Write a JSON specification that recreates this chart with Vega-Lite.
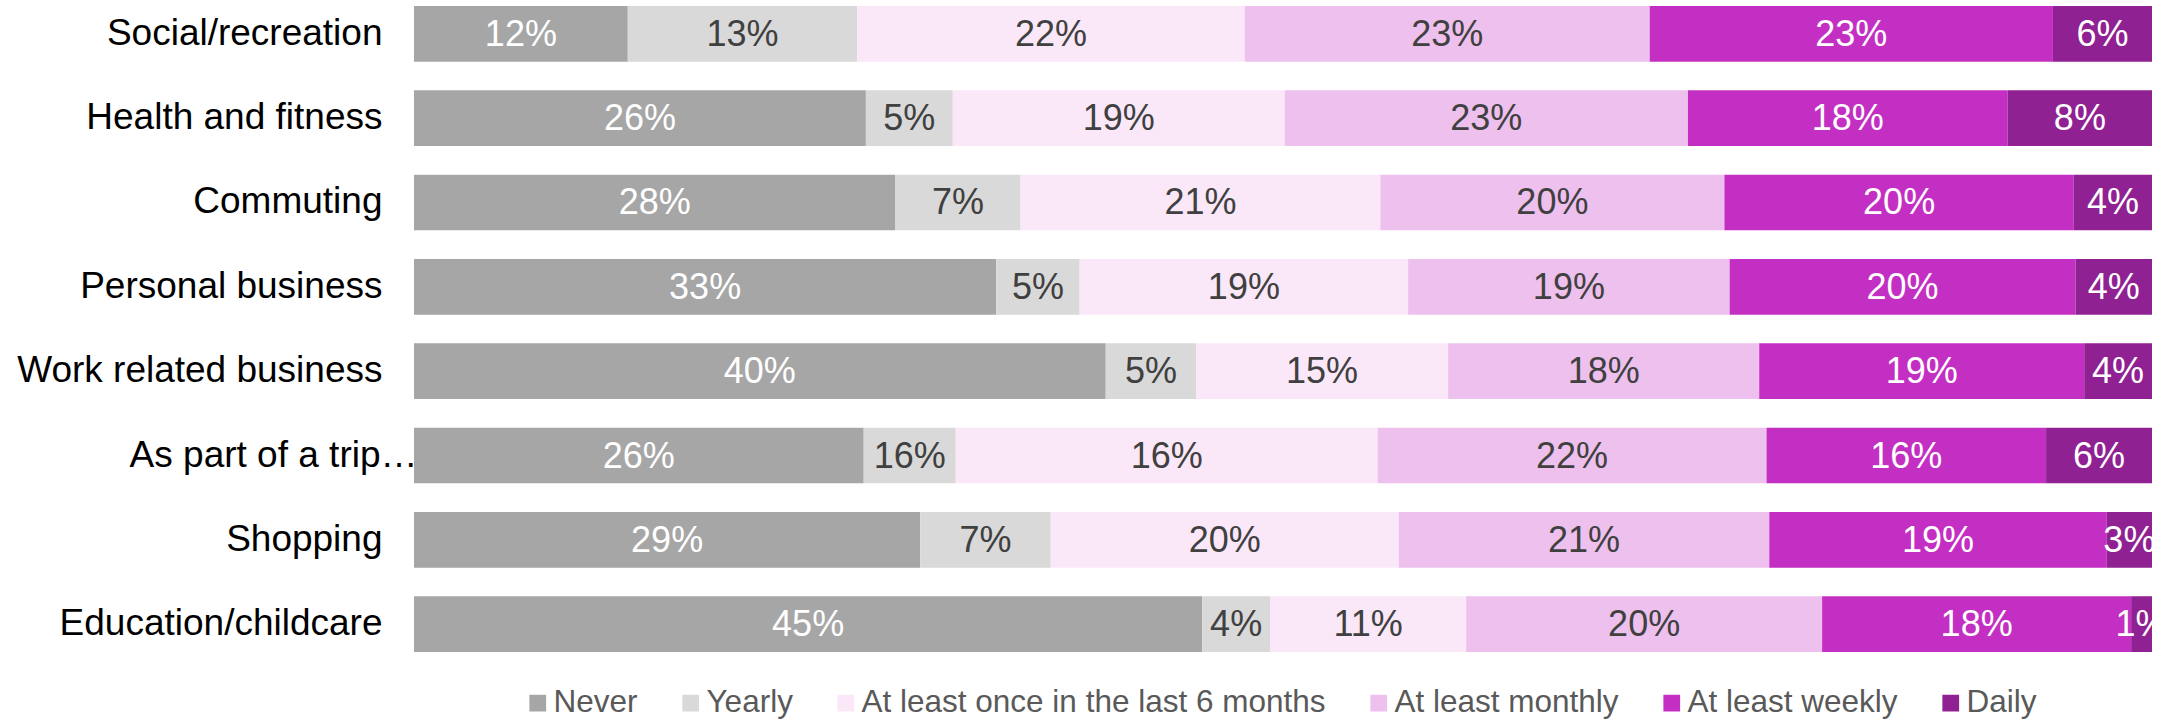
{
  "$schema": "https://vega.github.io/schema/vega-lite/v6.json",
  "width": 1738,
  "height": 658,
  "autosize": {"type": "none"},
  "padding": {"left": 414, "top": 0, "right": 10, "bottom": 63},
  "background": "white",
  "config": {"view": {"stroke": null}, "font": "Liberation Sans"},
  "data": {
    "values": [
      {"purpose": "Social/recreation", "freq": "Never", "k": 1, "value": 12.3, "label": "12%"},
      {"purpose": "Social/recreation", "freq": "Yearly", "k": 2, "value": 13.2, "label": "13%"},
      {"purpose": "Social/recreation", "freq": "At least once in the last 6 months", "k": 3, "value": 22.3, "label": "22%"},
      {"purpose": "Social/recreation", "freq": "At least monthly", "k": 4, "value": 23.3, "label": "23%"},
      {"purpose": "Social/recreation", "freq": "At least weekly", "k": 5, "value": 23.2, "label": "23%"},
      {"purpose": "Social/recreation", "freq": "Daily", "k": 6, "value": 5.7, "label": "6%"},

      {"purpose": "Health and fitness", "freq": "Never", "k": 1, "value": 26.0, "label": "26%"},
      {"purpose": "Health and fitness", "freq": "Yearly", "k": 2, "value": 5.0, "label": "5%"},
      {"purpose": "Health and fitness", "freq": "At least once in the last 6 months", "k": 3, "value": 19.1, "label": "19%"},
      {"purpose": "Health and fitness", "freq": "At least monthly", "k": 4, "value": 23.2, "label": "23%"},
      {"purpose": "Health and fitness", "freq": "At least weekly", "k": 5, "value": 18.4, "label": "18%"},
      {"purpose": "Health and fitness", "freq": "Daily", "k": 6, "value": 8.3, "label": "8%"},

      {"purpose": "Commuting", "freq": "Never", "k": 1, "value": 27.7, "label": "28%"},
      {"purpose": "Commuting", "freq": "Yearly", "k": 2, "value": 7.2, "label": "7%"},
      {"purpose": "Commuting", "freq": "At least once in the last 6 months", "k": 3, "value": 20.7, "label": "21%"},
      {"purpose": "Commuting", "freq": "At least monthly", "k": 4, "value": 19.8, "label": "20%"},
      {"purpose": "Commuting", "freq": "At least weekly", "k": 5, "value": 20.1, "label": "20%"},
      {"purpose": "Commuting", "freq": "Daily", "k": 6, "value": 4.5, "label": "4%"},

      {"purpose": "Personal business", "freq": "Never", "k": 1, "value": 33.5, "label": "33%"},
      {"purpose": "Personal business", "freq": "Yearly", "k": 2, "value": 4.8, "label": "5%"},
      {"purpose": "Personal business", "freq": "At least once in the last 6 months", "k": 3, "value": 18.9, "label": "19%"},
      {"purpose": "Personal business", "freq": "At least monthly", "k": 4, "value": 18.5, "label": "19%"},
      {"purpose": "Personal business", "freq": "At least weekly", "k": 5, "value": 19.9, "label": "20%"},
      {"purpose": "Personal business", "freq": "Daily", "k": 6, "value": 4.4, "label": "4%"},

      {"purpose": "Work related business", "freq": "Never", "k": 1, "value": 39.8, "label": "40%"},
      {"purpose": "Work related business", "freq": "Yearly", "k": 2, "value": 5.2, "label": "5%"},
      {"purpose": "Work related business", "freq": "At least once in the last 6 months", "k": 3, "value": 14.5, "label": "15%"},
      {"purpose": "Work related business", "freq": "At least monthly", "k": 4, "value": 17.9, "label": "18%"},
      {"purpose": "Work related business", "freq": "At least weekly", "k": 5, "value": 18.7, "label": "19%"},
      {"purpose": "Work related business", "freq": "Daily", "k": 6, "value": 3.9, "label": "4%"},

      {"purpose": "As part of a trip…", "freq": "Never", "k": 1, "value": 25.9, "label": "26%"},
      {"purpose": "As part of a trip…", "freq": "Yearly", "k": 2, "value": 5.3, "label": "16%"},
      {"purpose": "As part of a trip…", "freq": "At least once in the last 6 months", "k": 3, "value": 24.3, "label": "16%"},
      {"purpose": "As part of a trip…", "freq": "At least monthly", "k": 4, "value": 22.4, "label": "22%"},
      {"purpose": "As part of a trip…", "freq": "At least weekly", "k": 5, "value": 16.1, "label": "16%"},
      {"purpose": "As part of a trip…", "freq": "Daily", "k": 6, "value": 6.1, "label": "6%"},

      {"purpose": "Shopping", "freq": "Never", "k": 1, "value": 29.1, "label": "29%"},
      {"purpose": "Shopping", "freq": "Yearly", "k": 2, "value": 7.5, "label": "7%"},
      {"purpose": "Shopping", "freq": "At least once in the last 6 months", "k": 3, "value": 20.0, "label": "20%"},
      {"purpose": "Shopping", "freq": "At least monthly", "k": 4, "value": 21.3, "label": "21%"},
      {"purpose": "Shopping", "freq": "At least weekly", "k": 5, "value": 19.4, "label": "19%"},
      {"purpose": "Shopping", "freq": "Daily", "k": 6, "value": 2.6, "label": "3%"},

      {"purpose": "Education/childcare", "freq": "Never", "k": 1, "value": 45.4, "label": "45%"},
      {"purpose": "Education/childcare", "freq": "Yearly", "k": 2, "value": 3.9, "label": "4%"},
      {"purpose": "Education/childcare", "freq": "At least once in the last 6 months", "k": 3, "value": 11.3, "label": "11%"},
      {"purpose": "Education/childcare", "freq": "At least monthly", "k": 4, "value": 20.5, "label": "20%"},
      {"purpose": "Education/childcare", "freq": "At least weekly", "k": 5, "value": 17.8, "label": "18%"},
      {"purpose": "Education/childcare", "freq": "Daily", "k": 6, "value": 1.2, "label": "1%"}
    ]
  },
  "encoding": {
    "y": {
      "field": "purpose",
      "type": "nominal",
      "sort": ["Social/recreation", "Health and fitness", "Commuting", "Personal business", "Work related business", "As part of a trip…", "Shopping", "Education/childcare"],
      "scale": {"paddingInner": 0.34, "paddingOuter": 0.071},
      "title": null,
      "axis": {
        "domain": false,
        "ticks": false,
        "labelFont": "Liberation Sans",
        "labelFontSize": 37,
        "labelColor": "#000000",
        "labelLimit": 600,
        "labelPadding": {"condition": {"test": "datum.value === 'As part of a trip…'", "value": -3}, "value": 32}
      }
    }
  },
  "layer": [
    {
      "mark": {"type": "bar"},
      "encoding": {
        "x": {"field": "value", "type": "quantitative", "stack": "normalize", "axis": null, "scale": {"domain": [0, 1], "nice": false}},
        "color": {
          "field": "freq",
          "type": "nominal",
          "scale": {
            "domain": ["Never", "Yearly", "At least once in the last 6 months", "At least monthly", "At least weekly", "Daily"],
            "range": ["#A6A6A6", "#D9D9D9", "#FAE8F9", "#EEC0EE", "#C42FC3", "#8F2192"]
          },
          "legend": {
            "orient": "none",
            "legendX": 108,
            "legendY": 687,
            "direction": "horizontal",
            "title": null,
            "padding": 0,
            "symbolType": "square",
            "symbolSize": 280,
            "symbolStrokeWidth": 0,
            "labelFont": "Liberation Sans",
            "labelFontSize": 31.5,
            "labelColor": "#595959",
            "labelOffset": 0,
            "columnPadding": 37,
            "labelLimit": 1000
          }
        },
        "order": {"field": "k", "type": "quantitative"}
      }
    },
    {
      "mark": {"type": "text", "fontSize": 36, "font": "Liberation Sans", "baseline": "middle", "align": "center", "clip": true, "dy": 1},
      "encoding": {
        "x": {"field": "value", "type": "quantitative", "stack": "normalize", "bandPosition": 0.5},
        "detail": {"field": "freq", "type": "nominal"},
        "order": {"field": "k", "type": "quantitative"},
        "text": {"field": "label", "type": "nominal"},
        "color": {"condition": {"test": "datum.k == 1 || datum.k >= 5", "value": "#FFFFFF"}, "value": "#404040"}
      }
    }
  ]
}
